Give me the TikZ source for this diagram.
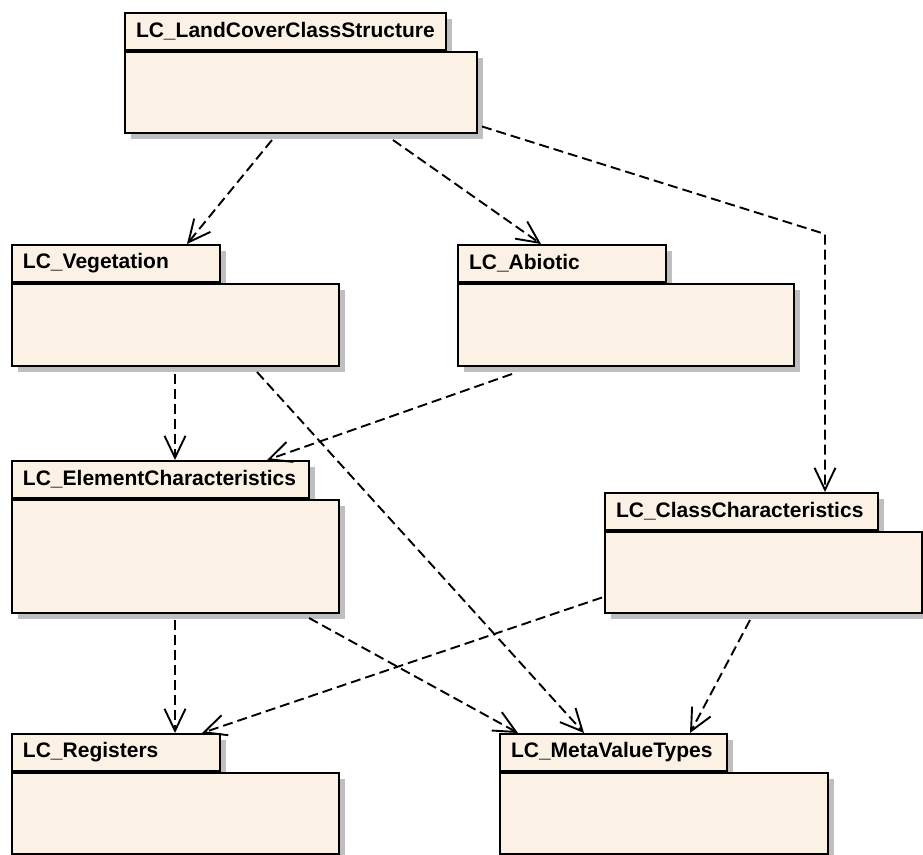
\documentclass[tikz,border=0pt]{standalone}
\usepackage{fontspec}
\usepackage{tikz}
\usetikzlibrary{arrows.meta}
\usetikzlibrary{shadows}
\newfontfamily\pkgfont{Liberation Sans}[BoldFont={Liberation Sans Bold}]
\definecolor{pkgfill}{RGB}{251,242,229}
\tikzset{
	pkgtab/.style={
		draw,
		rectangle,
		fill=pkgfill,
		line width=2pt,
		anchor=south west,
		minimum height=37pt,
		inner xsep=11pt,
		align=left,
		font=\pkgfont\bfseries\fontsize{21}{24}\selectfont,
		drop shadow={shadow xshift=6pt, shadow yshift=-6pt, fill=black!25, opacity=1},
	},
	pkgbody/.style={
		draw,
		rectangle,
		fill=pkgfill,
		line width=2pt,
		anchor=north west,
		drop shadow={shadow xshift=6pt, shadow yshift=-6pt, fill=black!25, opacity=1},
	},
	dep/.style={
		line width=1.9pt,
		dash pattern=on 10pt off 5pt,
		-{Straight Barb[length=22pt,width=21pt,line width=1.9pt]}
	},
}

\begin{document}
\begin{tikzpicture}[x=1pt,y=-1pt]
		\useasboundingbox (0,0) rectangle (923,854);

		\node[pkgtab, text width=299pt] 	(lccstab) at (124,51) {LC\_LandCoverClassStructure};
		\node[pkgbody, minimum width=352pt, minimum height=81pt] 	(lccs) at (lccstab.south west) {};

		\node[pkgtab, text width=186pt] 	(vegtab) at (11,283) {LC\_Vegetation};
		\node[pkgbody, minimum width=327pt, minimum height=82pt] 	(veg) at (vegtab.south west) {};

		\node[pkgtab, text width=186pt] 	(abiotab) at (457,283) {LC\_Abiotic};
		\node[pkgbody, minimum width=336pt, minimum height=82pt] 	(abio) at (abiotab.south west) {};

%*********

		\node[pkgtab, text width=275pt] 	(elemtab) at (11,499) {LC\_ElementCharacteristics};
		\node[pkgbody, minimum width=327pt, minimum height=113pt] 	(elem) at (elemtab.south west) {};

		\node[pkgtab, text width=251pt] 	(classtab) at (604,531) {LC\_ClassCharacteristics};
		\node[pkgbody, minimum width=317pt, minimum height=81pt] 	(class) at (classtab.south west) {};

%*********

		\node[pkgtab, text width=186pt] 	(regtab) at (11,772) {LC\_Registers};
		\node[pkgbody, minimum width=327pt, minimum height=81pt] 	(reg) at (regtab.south west) {};

		\node[pkgtab, text width=205pt] 	(metatab) at (499,772) {LC\_MetaValueTypes};
		\node[pkgbody, minimum width=328pt, minimum height=81pt] 	(meta) at (metatab.south west) {};

		\coordinate (bend) at (825,234);

%*********

		\draw[dep] 	([xshift=148pt,yshift=-6pt]lccs.south west) -- ([xshift=176pt]vegtab.north west);
		\draw[dep] 	([xshift=269pt,yshift=-6pt]lccs.south west) -- ([xshift=84pt]abiotab.north west);
		\draw[dep] 	([xshift=4pt,yshift=-34pt]lccs.east) -- (bend) -- ([xshift=221pt]classtab.north west);

		\draw[dep] 	([xshift=164pt,yshift=-7pt]veg.south west) -- ([xshift=164pt]elemtab.north west);
		\draw[dep] 	([xshift=55pt,yshift=-7pt]abio.south west) -- ([xshift=256pt]elemtab.north west);
		\draw[dep] 	([xshift=246pt,yshift=-5pt]veg.south west) -- ([xshift=85pt]metatab.north west);

		\draw[dep] 	([xshift=164pt,yshift=-6pt]elem.south west) -- ([xshift=164pt]regtab.north west);
		\draw[dep] 	([xshift=-2pt,yshift=-25pt]class.west) -- ([xshift=191pt]regtab.north west);
		\draw[dep] 	([xshift=298pt,yshift=-4pt]elem.south west) -- ([xshift=19pt]metatab.north west);
		\draw[dep] 	([xshift=146pt,yshift=-6pt]class.south west) -- ([xshift=191pt]metatab.north west);

	\end{tikzpicture}
\end{document}
